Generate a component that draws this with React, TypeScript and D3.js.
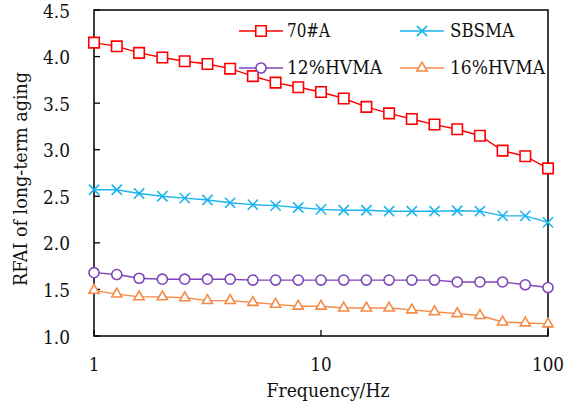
import React from 'react';
import * as d3 from 'd3';

const freqs = [1, 1.26, 1.58, 2, 2.51, 3.16, 3.98, 5.01, 6.31, 7.94, 10, 12.59, 15.85, 19.95, 25.12, 31.62, 39.81, 50.12, 63.1, 79.43, 100];
const a70 = [4.15, 4.11, 4.04, 3.99, 3.95, 3.92, 3.87, 3.79, 3.72, 3.67, 3.62, 3.55, 3.46, 3.39, 3.33, 3.27, 3.22, 3.15, 2.99, 2.93, 2.8];
const sbs = [2.57, 2.57, 2.53, 2.5, 2.48, 2.46, 2.43, 2.41, 2.4, 2.38, 2.36, 2.35, 2.35, 2.34, 2.34, 2.34, 2.345, 2.34, 2.29, 2.29, 2.22];
const hv12 = [1.68, 1.66, 1.62, 1.61, 1.61, 1.61, 1.61, 1.6, 1.6, 1.6, 1.6, 1.6, 1.6, 1.6, 1.6, 1.6, 1.58, 1.58, 1.58, 1.55, 1.52];
const hv16 = [1.49, 1.45, 1.42, 1.42, 1.41, 1.38, 1.38, 1.36, 1.34, 1.32, 1.32, 1.3, 1.3, 1.3, 1.28, 1.26, 1.24, 1.22, 1.15, 1.14, 1.13];
const yTicks = [1.0, 1.5, 2.0, 2.5, 3.0, 3.5, 4.0, 4.5];
const xTicks = [1, 10, 100];

const W = 571;
const H = 403;
const left = 94, right = 548, top = 10, bottom = 336;
const font = 'DejaVu Serif';

const series = [
  { name: '70#A', values: a70, color: '#ff0000', shape: d3.symbolSquare, size: 110, fill: '#fff', w: 43 },
  { name: 'SBSMA', values: sbs, color: '#1db4ee', shape: d3.symbolTimes, size: 70, fill: 'none', w: 64 },
  { name: '12%HVMA', values: hv12, color: '#7d46b8', shape: d3.symbolCircle, size: 80, fill: '#fff', w: 95 },
  { name: '16%HVMA', values: hv16, color: '#f58a48', shape: d3.symbolTriangle, size: 45, fill: '#fff', w: 95 },
];

// legend slots: [line start, text x, row y]
const legendPos = [
  [239, 287, 31],
  [400, 450, 31],
  [239, 287, 68],
  [400, 450, 68],
];

// DejaVu is wider than Times, squeeze text to the reference widths
const squeeze = (w: number) => ({ textLength: w, lengthAdjust: 'spacingAndGlyphs' as const });

export default function App() {
  const x = d3.scaleLog().domain([1, 100]).range([left, right]);
  const y = d3.scaleLinear().domain([1, 4.5]).range([bottom, top]);
  const line = d3.line<number>().x((d, i) => x(freqs[i])).y(d => y(d));

  return (
    <svg width={W} height={H} style={{ position: 'fixed', left: 0, top: 0, background: '#fff' }}>
      {/* y ticks point inward */}
      {yTicks.map(t => (
        <g key={t}>
          <line x1={left} x2={left + 6} y1={y(t)} y2={y(t)} stroke="#000" strokeWidth={1.3} />
          <text x={70} y={y(t)} dy="0.4em" textAnchor="end" fontSize={19} fontFamily={font} fill="#111" {...squeeze(27)}>{t.toFixed(1)}</text>
        </g>
      ))}
      {xTicks.map(t => (
        <g key={t}>
          <line x1={x(t)} x2={x(t)} y1={bottom} y2={bottom - 6} stroke="#000" strokeWidth={1.3} />
          <text x={x(t)} y={371} textAnchor="middle" fontSize={19} fontFamily={font} fill="#111" {...squeeze(String(t).length * 10.7)}>{t}</text>
        </g>
      ))}
      <rect x={left} y={top} width={right - left} height={bottom - top} fill="none" stroke="#000" strokeWidth={1.5} />

      {series.map(s => (
        <g key={s.name}>
          <path d={line(s.values) || ''} fill="none" stroke={s.color} strokeWidth={1.4} />
          {s.values.map((v, i) => (
            <path
              key={i}
              transform={`translate(${x(freqs[i])},${y(v)})`}
              d={d3.symbol(s.shape, s.size)() || ''}
              fill={s.fill}
              stroke={s.color}
              strokeWidth={1.6}
            />
          ))}
        </g>
      ))}

      {series.map((s, i) => {
        const [lx, tx, ly] = legendPos[i];
        return (
          <g key={'lg' + s.name}>
            <line x1={lx} x2={lx + 44} y1={ly} y2={ly} stroke={s.color} strokeWidth={1.6} />
            <path transform={`translate(${lx + 22},${ly})`} d={d3.symbol(s.shape, s.size)() || ''} fill={s.fill} stroke={s.color} strokeWidth={1.6} />
            <text x={tx} y={ly} dy="0.36em" fontSize={18} fontFamily={font} fill="#111" {...squeeze(s.w)}>{s.name}</text>
          </g>
        );
      })}

      <text transform="translate(27,179) rotate(-90)" textAnchor="middle" fontSize={19} fontFamily={font} fill="#111" {...squeeze(214)}>RFAI of long-term aging</text>
      <text x={328} y={397} textAnchor="middle" fontSize={19} fontFamily={font} fill="#111" {...squeeze(123)}>Frequency/Hz</text>
    </svg>
  );
}
